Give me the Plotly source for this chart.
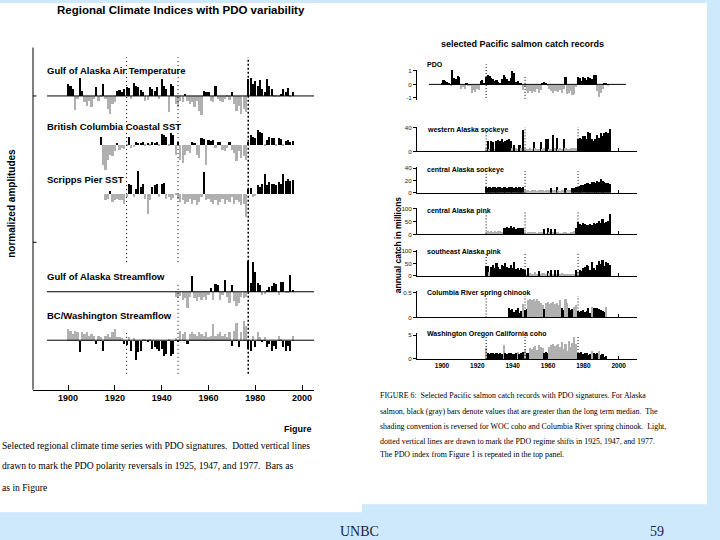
import plotly.graph_objects as go

# ------------------------------------------------------------------ data
# Left figure: regional climate indices (normalized amplitudes, arbitrary units)
gak_air_start = 1900
gak_air = [35, 30, 20, -44, -10, 55, 15, -20, -30, -15, -35, -10, 25, -15, -5, 35, -10, -40, -55, -25,
           -20, 15, 18, 12, 20, 25, 22, -10, 40, 30, 25, 18, 10, -15, -12, 25, 20, 15, 28, -10,
           50, 30, 20, -50, 35, 30, -25, -35, -15, -20, 5, -15, -25, -20, -35, -15, -45, -57, 13, 10,
           12, -15, -20, 30, -10, -15, -20, -10, -5, -12, 12, -25, -45, -30, -55, -40, -50, 50, 55, 35,
           45, 30, 48, 20, 10, 50, 30, 20, -5, -5, -3, 5, 20, 12, 22, -5, 10]
bc_sst_start = 1914
bc_sst = [25, -60, -75, -45, -30, -35, -20, 5, -15, -10, -12, -5, 25, -10, -8, 8, 5, 6, 10, -5,
          4, -5, 10, 5, 10, -5, 32, 30, 25, -5, 35, 30, -30, 10, -45, -55, -30, -20, -25, 8,
          6, -30, -40, 20, 18, -60, 15, 12, 15, -10, 10, 8, -15, -20, -10, 8, -15, -25, -50, -20,
          -40, -35, -45, 8, 30, 25, 20, 45, 40, 35, -5, 15, 25, 20, 22, -5, 20, 18, -5, 12,
          15, 10, 12]
scripps_start = 1916
scripps = [-20, -15, 8, -25, -20, -15, -18, -20, -30, -10, 30, 25, -10, 15, 70, 20, 30, -15, -62, -20,
           20, 25, 28, -10, 30, 33, -15, -10, -20, -12, -5, -15, -25, -20, -30, -25, -15, -30, -20, -35,
           -25, -10, 66, -20, -15, -25, -30, -20, -35, -25, -15, -30, -20, -25, -10, -30, -20, -25, -35, -30,
           -72, 15, 18, -10, -8, 25, 20, 30, 60, 25, 35, 30, 28, 25, 35, 30, 60, 40, 45, 40, 42]
gak_flow_start = 1946
gak_flow = [-15, -18, -12, -25, -20, -50, -15, 47, -20, -30, -15, -25, -15, -25, -10, 12, -25, 22, 20, -25,
            -10, 35, -15, -35, 20, -30, -45, -35, -15, -20, -15, 92, 25, 90, 60, 25, 20, -10, -8, 5,
            15, 18, 25, 22, -10, 28, 30, -5, -5, 50, 5]
bcw_flow_start = 1900
bcw_flow = [35, 30, 20, 30, 25, -35, 25, 20, 25, 15, 20, 15, -10, 15, 10, -30, 15, 20, 10, 25,
            35, 12, 10, 8, -10, -12, 10, -30, 8, -60, -35, -30, 5, 5, -5, 5, -25, -20, -25, -30,
            -25, -45, -40, 5, -45, -40, 8, -5, 30, 20, 25, -10, 20, 25, 20, 15, 25, 20, 15, 25,
            10, 15, 50, 15, 20, 25, 15, 20, 10, 25, -15, 30, 55, -20, 25, 60, 45, -25, -30, 15,
            -20, 25, 10, -5, 10, -20, -10, -30, -15, -25, 15, 5, -20, -30, -15, -30, 15]

left_titles = ["Gulf of Alaska Air Temperature", "British Columbia Coastal SST", "Scripps Pier SST",
               "Gulf of Alaska Streamflow", "BC/Washington Streamflow"]
left_ticks = [1900, 1920, 1940, 1960, 1980, 2000]
pdo_shifts = [1925, 1947, 1977]

# Right figure: salmon catch records
pdo_start = 1900
pdo = [0.1, 0.35, 0.3, 0.2, 0.1, -0.05, 1.1, 0.5, 0.45, 0.65, 0.6, -0.3, -0.2, -0.3, 0.1, -0.1, -0.05, -0.6, -0.4, -0.55,
       -0.35, -0.4, 0.3, 0.35, 0.1, 0.6, 0.75, 0.65, 0.5, 0.4, 0.3, 0.35, 0.2, 0.15, 0.4, 0.7, 0.6, 0.45, 0.3, 0.5,
       1.0, 0.9, 0.2, 0.3, 0.05, 0.15, -0.4, -0.2, -0.5, -0.6, -0.5, -0.6, -0.45, -0.55, -0.3, -0.6, -0.4, 0.1, 0.2, 0.15,
       -0.05, -0.3, -0.5, -0.6, -0.5, -0.45, -0.55, -0.4, -0.6, -0.3, 0.55, -0.7, -0.6, -0.5, -0.8, -0.7, -0.2, 0.6, 0.5, 0.3,
       0.55, 0.5, 0.35, 0.6, 0.5, 0.4, 0.7, 0.75, -0.5, -0.9, -0.6, -0.3, 0.05, 0.05, -0.05, 0.0, 0.0]
wak_sockeye_start = 1925
wak_sockeye = [5, 17, 4, 17, 16, 4, 18, 19, 17, 20, 16, 18, 19, 20, 18, 6, 10, 5, 4, 10,
               5, 35, 5, 4, 3, 6, 4, 16, 5, 3, 4, 16, 4, 5, 20, 20, 3, 4, 28, 5,
               22, 4, 5, 3, 20, 5, 4, 3, 6, 5, 5, 6, 20, 22, 20, 25, 26, 20, 32, 30,
               20, 18, 20, 28, 22, 30, 25, 30, 32, 30, 38]
wak_sockeye_median = 9
cak_sockeye_start = 1925
cak_sockeye = [9, 8, 9, 8, 10, 9, 8, 10, 9, 8, 10, 9, 8, 9, 10, 9, 8, 9, 8, 9,
               8, 9, 4, 5, 4, 3, 4, 5, 4, 3, 4, 5, 4, 3, 4, 5, 4, 8, 4, 5,
               9, 4, 3, 4, 5, 8, 4, 5, 4, 8, 8, 10, 9, 11, 13, 12, 14, 15, 16, 14,
               18, 17, 16, 19, 18, 22, 19, 17, 16, 15, 14]
cak_sockeye_median = 7
cak_pink_start = 1925
cak_pink = [12, 14, 10, 13, 12, 15, 12, 14, 13, 12, 28, 25, 30, 27, 32, 26, 30, 24, 28, 26,
            27, 25, 10, 8, 12, 10, 12, 9, 11, 8, 10, 12, 9, 24, 8, 26, 10, 22, 9, 22,
            10, 12, 8, 7, 9, 10, 8, 6, 10, 12, 15, 25, 48, 42, 38, 45, 40, 38, 36, 42,
            38, 44, 40, 46, 52, 46, 60, 44, 50, 54, 80]
cak_pink_median = 20
seak_pink_start = 1925
seak_pink = [40, 38, 15, 35, 42, 30, 50, 35, 28, 45, 40, 52, 35, 30, 45, 32, 55, 28, 30, 25,
             30, 28, 25, 8, 30, 10, 6, 8, 15, 7, 20, 8, 10, 12, 8, 20, 10, 22, 8, 25,
             6, 22, 8, 10, 5, 6, 8, 6, 5, 7, 6, 22, 15, 25, 20, 30, 35, 45, 38, 22,
             55, 30, 25, 45, 60, 48, 62, 40, 55, 50, 45]
seak_pink_median = 18
col_chinook_start = 1938
col_chinook = [0.2, 0.15, 0.18, 0.12, 0.16, 0.19, 0.1, 0.14, 0.28, 0.15, 0.17, 0.35, 0.38, 0.36, 0.38, 0.33,
               0.37, 0.34, 0.3, 0.25, 0.17, 0.3, 0.32, 0.28, 0.3, 0.31, 0.27, 0.29, 0.25, 0.35, 0.2, 0.15,
               0.38, 0.3, 0.2, 0.15, 0.18, 0.22, 0.25, 0.13, 0.12, 0.13, 0.15, 0.12, 0.14, 0.2, 0.1, 0.21,
               0.2, 0.19, 0.2, 0.17, 0.16, 0.14, 0.12, 0.21]
col_chinook_median = 0.205
woc_coho_start = 1925
woc_coho = [2.2, 1.2, 1.0, 1.2, 1.1, 1.0, 1.2, 1.0, 1.1, 1.0, 2.9, 1.3, 1.0, 1.2, 1.2, 0.9, 1.0, 1.3, 1.5, 1.0,
            1.2, 1.4, 1.8, 1.2, 1.1, 2.2, 2.0, 2.4, 2.6, 1.9, 2.8, 2.5, 2.2, 1.1, 1.4, 1.3, 2.4, 2.8, 3.0, 2.6,
            2.8, 3.2, 2.5, 3.6, 2.0, 3.2, 1.7, 3.8, 2.4, 3.4, 4.6, 3.0, 1.3, 1.2, 1.4, 1.0, 1.1, 1.3, 0.7, 1.0,
            1.7, 1.2, 0.9, 1.1, 1.6, 0.8, 1.0, 0.4, 0.6]
woc_coho_median = 1.45

right_titles = ["PDO", "western Alaska sockeye", "central Alaska sockeye", "central Alaska pink",
                "southeast Alaska pink", "Columbia River spring chinook", "Washington Oregon California coho"]
right_tickvals = [[-1, 0, 1], [0, 40], [0, 20, 40], [0, 50, 100], [0, 50, 100], [0, 0.5], [0, 5]]
right_ticktext = [["-1", "0", "1"], ["0", "40"], ["0", "20", "40"], ["0", "50", "100"], ["0", "50", "100"],
                  ["0", "0.5"], ["0", "5"]]
right_xticks = [1900, 1920, 1940, 1960, 1980, 2000]

# ------------------------------------------------------------------ styling / layout helpers
W, H = 720, 540
BLACK = "#000000"
GRAY = "#b0b0b0"
BG = "#cde9fb"
SANS = "Liberation Sans, Arial, sans-serif"
SERIF = "Liberation Serif, Times New Roman, serif"


def fx(p):
    return p / W


def fy(p):
    return 1 - p / H


fig = go.Figure()
layout = dict(width=W, height=H, margin=dict(l=0, r=0, t=0, b=0), autosize=False,
              paper_bgcolor=BG, plot_bgcolor="rgba(0,0,0,0)", showlegend=False,
              barmode="overlay", bargap=0)
shapes = []
annotations = []

# white page regions
shapes.append(dict(type="rect", xref="paper", yref="paper", x0=0, x1=fx(362), y0=fy(515), y1=1,
                   fillcolor="white", line=dict(width=0), layer="below"))
shapes.append(dict(type="rect", xref="paper", yref="paper", x0=fx(362), x1=fx(707), y0=fy(507), y1=1,
                   fillcolor="white", line=dict(width=0), layer="below"))

# ------------------------------------------------------------------ left figure
left_series = [(gak_air_start, gak_air, False), (bc_sst_start, bc_sst, False), (scripps_start, scripps, False),
               (gak_flow_start, gak_flow, False), (bcw_flow_start, bcw_flow, True)]
# (top px, baseline px, bottom px); 3 data units per pixel
left_geom = [(70, 94, 118), (125, 143, 170), (165, 193, 220), (255, 292, 315), (315, 341, 365)]
UNITS_PER_PX = 3.0
left_label_y = [68, 125, 178, 277, 316]
left_baseline_panels = [0, 3, 4]

layout["xaxis"] = dict(domain=[fx(33), fx(314)], range=[1885, 2005.1], anchor="free", position=fy(391),
                       showline=True, linecolor="black", linewidth=1, ticks="inside", ticklen=5,
                       tickcolor="black", tickvals=left_ticks, showgrid=False, zeroline=False,
                       tickfont=dict(family=SANS, size=9, color="black", weight="bold"))

for i, ((start, vals, rev), (top, base, bot)) in enumerate(zip(left_series, left_geom)):
    yname = "y" if i == 0 else f"y{i + 1}"
    lname = "yaxis" if i == 0 else f"yaxis{i + 1}"
    years = list(range(start, start + len(vals)))
    if rev:
        cols = [GRAY if v > 0 else BLACK for v in vals]
    else:
        cols = [BLACK if v > 0 else GRAY for v in vals]
    fig.add_trace(go.Bar(x=years, y=vals, xaxis="x", yaxis=yname, marker=dict(color=cols, line=dict(width=0)),
                         width=0.92, hoverinfo="skip"))
    layout[lname] = dict(domain=[fy(bot), fy(top)], range=[-(bot - base) * UNITS_PER_PX, (base - top) * UNITS_PER_PX],
                         visible=False, anchor="x", fixedrange=True)
    if i in left_baseline_panels:
        shapes.append(dict(type="line", xref="x", yref=yname, x0=1891, x1=2005.1, y0=0, y1=0,
                           line=dict(color="black", width=1)))
    annotations.append(dict(x=fx(45), y=fy(left_label_y[i]), xref="paper", yref="paper", text=left_titles[i],
                            showarrow=False, xanchor="left", yanchor="middle",
                            font=dict(family=SANS, size=9.5, color="black", weight="bold")))

# left frame axis and ticks
shapes.append(dict(type="line", xref="paper", yref="paper", x0=fx(33), x1=fx(33), y0=fy(391), y1=fy(45),
                   line=dict(color="black", width=1)))
for tpy in (94, 242):
    shapes.append(dict(type="line", xref="paper", yref="paper", x0=fx(33), x1=fx(36.5), y0=fy(tpy), y1=fy(tpy),
                       line=dict(color="black", width=1)))

# left dotted regime-shift lines (segments in px)
left_dot_segments = {1925: [(55, 262), (333, 375)], 1947: [(55, 262), (285, 375)], 1977: [(55, 375)]}
for yr in pdo_shifts:
    for (a, b) in left_dot_segments[yr]:
        shapes.append(dict(type="line", xref="x", yref="paper", x0=yr, x1=yr, y0=fy(b), y1=fy(a),
                           line=dict(color="black", width=1.5 if yr == 1977 else 1,
                                     dash="1px,3px" if yr != 1977 else "2px,2px")))

annotations += [
    dict(x=fx(181), y=fy(7), text="Regional Climate Indices with PDO variability", xanchor="center",
         font=dict(family=SANS, size=11.5, color="black", weight="bold")),
    dict(x=fx(12), y=fy(203), text="normalized amplitudes", textangle=-90, xanchor="center",
         font=dict(family=SANS, size=10, color="black", weight="bold")),
    dict(x=fx(314), y=fy(431), text="Figure", xanchor="right",
         font=dict(family=SANS, size=9, color="black", weight="bold")),
    dict(x=fx(0), y=fy(447), xanchor="left",
         text="Selected regional climate time series with PDO signatures.  Dotted vertical lines",
         font=dict(family=SERIF, size=9.6, color="black")),
    dict(x=fx(0), y=fy(468), xanchor="left",
         text="drawn to mark the PDO polarity reversals in 1925, 1947, and 1977.  Bars as",
         font=dict(family=SERIF, size=9.6, color="black")),
    dict(x=fx(0), y=fy(490), xanchor="left", text="as in Figure",
         font=dict(family=SERIF, size=9.6, color="black")),
]

# ------------------------------------------------------------------ right figure
right_series = [(pdo_start, pdo, None, "sign"),
                (wak_sockeye_start, wak_sockeye, wak_sockeye_median, "high_black"),
                (cak_sockeye_start, cak_sockeye, cak_sockeye_median, "high_black"),
                (cak_pink_start, cak_pink, cak_pink_median, "high_black"),
                (seak_pink_start, seak_pink, seak_pink_median, "high_black"),
                (col_chinook_start, col_chinook, col_chinook_median, "high_gray"),
                (woc_coho_start, woc_coho, woc_coho_median, "high_gray")]
# (top px, baseline px, bottom px, px per unit)
right_geom = [(67.5, 82.3, 98.5, 13.6), (125.5, 150, 150, 0.6), (166, 192, 192, 0.625), (207, 234, 234, 0.26),
              (250, 276, 276, 0.25), (291, 318, 318, 50.0), (334, 360, 360, 4.8)]
right_label_y = [62, 128, 169, 210, 252, 293, 335]
# fraction of each panel's height reached by the dotted lines
right_dot_tops = [{1925: (0.08, 1.18), 1947: (0.05, 0.82)},
                  {1925: (0, 0.82), 1947: (0, 1.0), 1977: (0, 1.0)},
                  {1925: (0, 1.0), 1947: (0, 0.85), 1977: (0, 0.85)},
                  {1925: (0, 0.9), 1947: (0, 0.9), 1977: (0, 0.9)},
                  {1925: (0, 0.93), 1947: (0, 0.93), 1977: (0, 0.93)},
                  {1925: (0, 0.78), 1947: (0, 0.8), 1977: (0, 0.8)},
                  {1925: (0, 0.88), 1947: (0, 0.85), 1977: (0, 0.92)}]
RX0, RX1 = 417, 637
rx_range = [1900 - (442 - RX0) / 1.767, 1900 + (RX1 - 442) / 1.767]

for r, ((start, vals, med, mode), (top, base, bot, ppu)) in enumerate(zip(right_series, right_geom)):
    xn, yn = 2 + r, 6 + r
    years = list(range(start, start + len(vals)))
    if mode == "sign":
        cols = [BLACK if v > 0 else GRAY for v in vals]
    elif mode == "high_black":
        cols = [BLACK if v > med else GRAY for v in vals]
    else:
        cols = [GRAY if v > med else BLACK for v in vals]
    fig.add_trace(go.Bar(x=years, y=vals, xaxis=f"x{xn}", yaxis=f"y{yn}",
                         marker=dict(color=cols, line=dict(width=0)), width=0.92, hoverinfo="skip"))
    xa = dict(domain=[fx(RX0), fx(RX1)], range=rx_range, anchor=f"y{yn}", showgrid=False, zeroline=False,
              fixedrange=True)
    if r == 0:
        xa.update(visible=False)
    elif r == len(right_series) - 1:
        xa.update(showline=True, linecolor="black", linewidth=1, ticks="", tickvals=right_xticks,
                  tickfont=dict(family=SANS, size=6.5, color="black", weight="bold"),
                  minor=dict(tickvals=[2000], ticks="inside", ticklen=3, tickcolor="black"))
    else:
        xa.update(showline=True, linecolor="black", linewidth=1, ticks="inside", ticklen=3, tickcolor="black",
                  tickvals=[2000], showticklabels=False)
    layout[f"xaxis{xn}"] = xa
    layout[f"yaxis{yn}"] = dict(domain=[fy(bot), fy(top)], range=[-(bot - base) / ppu, (base - top) / ppu],
                                anchor=f"x{xn}", showline=True, linecolor="black", linewidth=1, ticks="outside",
                                ticklen=3, tickcolor="black", tickvals=right_tickvals[r],
                                ticktext=right_ticktext[r], showgrid=False, zeroline=False, fixedrange=True,
                                tickfont=dict(family=SANS, size=6.2, color="#222222"))
    if r == 0:
        shapes.append(dict(type="line", xref=f"x{xn}", yref=f"y{yn}", x0=1892.6, x1=2004.1, y0=0, y1=0,
                           line=dict(color="black", width=1)))
    for yr, (a, b) in right_dot_tops[r].items():
        shapes.append(dict(type="line", xref=f"x{xn}", yref=f"y{yn} domain", x0=yr, x1=yr, y0=a, y1=b,
                           line=dict(color="black", width=1, dash="1px,2px")))
    annotations.append(dict(x=fx(425), y=fy(right_label_y[r]), text=right_titles[r], xanchor="left",
                            font=dict(family=SANS, size=7, color="black", weight="bold")))

right_caption = [
    "FIGURE 6:  Selected Pacific salmon catch records with PDO signatures. For Alaska",
    "salmon, black (gray) bars denote values that are greater than the long term median.  The",
    "shading convention is reversed for WOC coho and Columbia River spring chinook.  Light,",
    "dotted vertical lines are drawn to mark the PDO regime shifts in 1925, 1947, and 1977.",
    "The PDO index from Figure 1 is repeated in the top panel.",
]
for txt, yy in zip(right_caption, [397, 413, 428, 443, 457]):
    annotations.append(dict(x=fx(378), y=fy(yy), text=txt, xanchor="left",
                            font=dict(family=SERIF, size=7.9, color="black")))

annotations += [
    dict(x=fx(522), y=fy(41), text="selected Pacific salmon catch records", xanchor="center",
         font=dict(family=SANS, size=9, color="black", weight="bold")),
    dict(x=fx(398), y=fy(245), text="annual catch in millions", textangle=-90, xanchor="center",
         font=dict(family=SANS, size=8.5, color="black", weight="bold")),
    dict(x=fx(359), y=fy(534), text="UNBC", xanchor="center",
         font=dict(family=SERIF, size=14, color="#1a1a4a")),
    dict(x=fx(657), y=fy(534), text="59", xanchor="center",
         font=dict(family=SERIF, size=14, color="#1a1a4a")),
]

for a in annotations:
    a.setdefault("xref", "paper")
    a.setdefault("yref", "paper")
    a.setdefault("showarrow", False)
    a.setdefault("yanchor", "middle")

layout["shapes"] = shapes
layout["annotations"] = annotations
fig.update_layout(**layout)
fig.write_html("out.html", config={"displayModeBar": False},
               post_script="document.body.style.margin='0';document.body.style.padding='0';")
